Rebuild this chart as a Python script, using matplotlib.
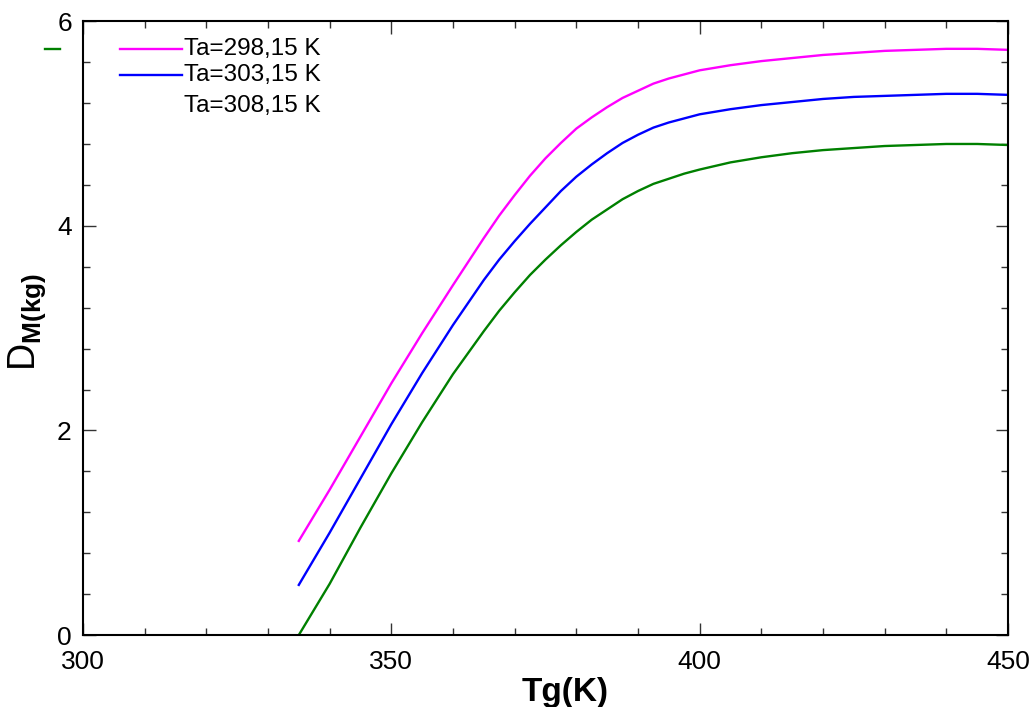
import matplotlib
matplotlib.use("Agg")
import matplotlib.pyplot as plt
from matplotlib.ticker import MultipleLocator
from matplotlib.lines import Line2D

plt.rcParams['font.family'] = ['Liberation Sans', 'DejaVu Sans']
plt.rcParams['mathtext.fontset'] = 'custom'
plt.rcParams['mathtext.rm'] = 'Liberation Sans'
plt.rcParams['mathtext.bf'] = 'Liberation Sans:bold'

# Data
tg = [335, 340, 345, 350, 355, 360, 365, 367.5, 370, 372.5, 375, 377.5, 380,
      382.5, 385, 387.5, 390, 392.5, 395, 397.5, 400, 405, 410, 415, 420, 425,
      430, 435, 440, 445, 450]
d_298 = [0.92, 1.42, 1.94, 2.46, 2.95, 3.42, 3.88, 4.10, 4.30, 4.49, 4.66, 4.81,
         4.95, 5.06, 5.16, 5.25, 5.32, 5.39, 5.44, 5.48, 5.52, 5.57, 5.61, 5.64,
         5.67, 5.69, 5.71, 5.72, 5.73, 5.73, 5.72]
d_303 = [0.49, 1.00, 1.53, 2.06, 2.56, 3.03, 3.47, 3.67, 3.85, 4.02, 4.18, 4.34,
         4.48, 4.60, 4.71, 4.81, 4.89, 4.96, 5.01, 5.05, 5.09, 5.14, 5.18, 5.21,
         5.24, 5.26, 5.27, 5.28, 5.29, 5.29, 5.28]
d_308 = [0.00, 0.50, 1.05, 1.58, 2.08, 2.55, 2.97, 3.17, 3.35, 3.52, 3.67, 3.81,
         3.94, 4.06, 4.16, 4.26, 4.34, 4.41, 4.46, 4.51, 4.55, 4.62, 4.67, 4.71,
         4.74, 4.76, 4.78, 4.79, 4.80, 4.80, 4.79]
labels = ['Ta=298,15 K', 'Ta=303,15 K', 'Ta=308,15 K']
colors = ['#ff00ff', '#0000ff', '#008000']

fig = plt.figure(figsize=(10.33, 7.07), dpi=100)
ax = fig.add_axes([0.0803, 0.1018, 0.8955, 0.8682])

for y, c in zip([d_298, d_303, d_308], colors):
    ax.plot(tg, y, color=c, lw=1.7, solid_joinstyle='round')

ax.set_xlim(300, 450)
ax.set_ylim(0, 6)
ax.xaxis.set_major_locator(MultipleLocator(50))
ax.xaxis.set_minor_locator(MultipleLocator(10))
ax.yaxis.set_major_locator(MultipleLocator(2))
ax.yaxis.set_minor_locator(MultipleLocator(0.4))
ax.tick_params(which='both', direction='in', top=True, right=True,
               labelsize=19, color='#333333', width=1.0)
ax.tick_params(which='major', length=9)
ax.tick_params(axis='x', which='major', pad=11)
ax.tick_params(axis='y', which='major', pad=8)
ax.tick_params(which='minor', length=5)
for s in ax.spines.values():
    s.set_linewidth(1.5)

ax.set_xlabel('Tg(K)', fontsize=24, fontweight='bold')
ax.xaxis.set_label_coords(0.521, -0.069)
ax.set_ylabel(r'$\mathrm{D}_{\mathbf{M(kg)}}$', fontsize=27)
ax.yaxis.set_label_coords(-0.038, 0.51)

# Legend (manual): lines for first two entries, text for all three
leg_y = [0.954, 0.912, 0.862]
for i, (lab, yy) in enumerate(zip(labels, leg_y)):
    if i < 2:
        ax.plot([0.040, 0.107], [yy, yy], color=colors[i], lw=1.7,
                transform=ax.transAxes, clip_on=False)
    ax.text(0.109, yy, lab, transform=ax.transAxes, fontsize=17.5,
            va='center', ha='left')

# stray green legend dash outside the axes (as in the reference)
fig.add_artist(Line2D([45 / 1033, 60 / 1033], [1 - 49 / 707, 1 - 49 / 707],
                      color=colors[2], lw=1.7, transform=fig.transFigure))

fig.savefig('out.png', dpi=100)
